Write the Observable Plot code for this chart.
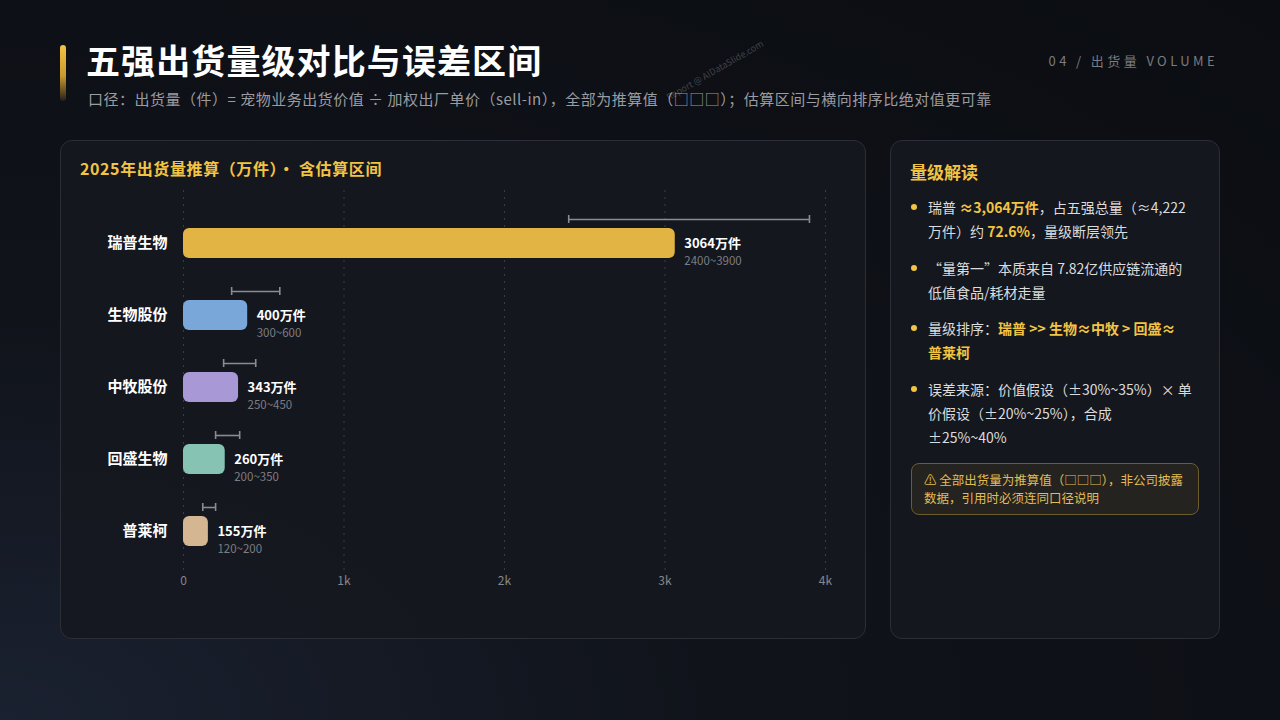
<!DOCTYPE html>
<html>
<head>
<meta charset="utf-8">
<script src="https://cdn.jsdelivr.net/npm/d3@7"></script>
<script src="https://cdn.jsdelivr.net/npm/@observablehq/plot@0.6"></script>
<style>
  html, body { margin: 0; padding: 0; }
  body {
    width: 1280px; height: 720px; overflow: hidden; position: relative;
    background: radial-gradient(ellipse at 0% 100%, #1a2130 0%, #10131a 40%, #0b0d12 100%);
    font-family: "Noto Sans CJK SC", "Noto Sans", sans-serif;
    color: #e8e8e8;
  }
  .accent { position: absolute; left: 60px; top: 45px; width: 6px; height: 56px; border-radius: 3px;
    background: linear-gradient(#f2c443 0%, #c99a2e 55%, rgba(120,90,30,0.2) 100%); }
  .title { position: absolute; left: 86px; top: 37px; font-size: 34px; font-weight: 700; color: #fff; letter-spacing: 1.1px; line-height: 46px; }
  .subtitle { position: absolute; left: 88px; top: 88px; font-size: 15px; color: #9a9ca2; line-height: 22px; white-space: nowrap; letter-spacing: 0.5px; }
  .tag { position: absolute; right: 62px; top: 52px; font-size: 13px; color: #7a7c80; letter-spacing: 3.4px; line-height: 18px; }
  .watermark { position: absolute; left: 664px; top: 92px; font-size: 9px; color: rgba(255,255,255,0.22); transform: rotate(-30deg); transform-origin: left top; white-space: nowrap; }
  .panel { position: absolute; background: rgba(22,24,31,0.92); border: 1px solid #2b2e37; border-radius: 12px; box-sizing: border-box; }
  .left { left: 60px; top: 140px; width: 806px; height: 499px; }
  .right { left: 890px; top: 140px; width: 330px; height: 499px; }
  .ptitle { position: absolute; font-weight: 700; color: #f2c443; white-space: nowrap; }
  .chart { position: absolute; left: 60px; top: 190px; }
  .bullets { position: absolute; left: 20px; top: 54px; width: 300px; font-size: 14px; color: #dcdcdc; line-height: 24px; }
  .bl { position: relative; padding-left: 17px; margin-bottom: 12.5px; white-space: nowrap; }
  .bl::before { content: ""; position: absolute; left: 0; top: 9px; width: 6px; height: 6px; border-radius: 50%; background: #f2c443; }
  .hl { color: #f2c443; font-weight: 700; }
  .warn { position: absolute; left: 20px; top: 322px; width: 288px; height: 52px; box-sizing: border-box; border: 1px solid #6e5c2c; border-radius: 8px; background: rgba(190,150,50,0.10); color: #e2bd55; font-size: 12.5px; line-height: 18px; padding: 7px 0 0 12px; white-space: nowrap; }
</style>
</head>
<body>
<div class="accent"></div>
<div class="title">五强出货量级对比与误差区间</div>
<div class="subtitle">口径：出货量（件）= 宠物业务出货价值 ÷ 加权出厂单价（sell-in），全部为推算值（□□□）；估算区间与横向排序比绝对值更可靠</div>
<div class="tag">04 / 出货量 VOLUME</div>
<div class="watermark">Report @ AIDataSlide.com</div>

<div class="panel left">
  <div class="ptitle" style="left:19px; top:14px; font-size:16px; line-height:26px; letter-spacing:0.6px;">2025年出货量推算（万件）· 含估算区间</div>
</div>
<div id="chart" class="chart"></div>

<div class="panel right">
  <div class="ptitle" style="left:19px; top:18px; font-size:17px; line-height:26px;">量级解读</div>
  <div class="bullets">
    <div class="bl">瑞普 <span class="hl">≈3,064万件</span>，占五强总量（≈4,222<br>万件）约 <span class="hl">72.6%</span>，量级断层领先</div>
    <div class="bl">“量第一”本质来自 7.82亿供应链流通的<br>低值食品/耗材走量</div>
    <div class="bl">量级排序：<span class="hl">瑞普 &gt;&gt; 生物≈中牧 &gt; 回盛≈<br>普莱柯</span></div>
    <div class="bl">误差来源：价值假设（±30%~35%）× 单<br>价假设（±20%~25%），合成<br>±25%~40%</div>
  </div>
  <div class="warn">⚠ 全部出货量为推算值（□□□），非公司披露<br>数据，引用时必须连同口径说明</div>
</div>

<script>
const companies = ["瑞普生物", "生物股份", "中牧股份", "回盛生物", "普莱柯"];
const volumes = [3064, 400, 343, 260, 155];
const lows = [2400, 300, 250, 200, 120];
const highs = [3900, 600, 450, 350, 200];
const barColors = ["#e1b443", "#7aa7d9", "#a899d6", "#86c3b3", "#d4b692"];
const xTicks = [0, 1000, 2000, 3000, 4000];
const unit = "万件";

const rows = companies.map((c, i) => ({
  company: c, volume: volumes[i], low: lows[i], high: highs[i], color: barColors[i]
}));

const chart = Plot.plot({
  width: 806,
  height: 405,
  marginLeft: 123,
  marginRight: 41,
  marginTop: 0,
  marginBottom: 25,
  style: { background: "transparent", color: "#8a8c92", fontFamily: "'Noto Sans CJK SC', 'Noto Sans', sans-serif" },
  x: { domain: [0, 4000], ticks: xTicks, label: null },
  y: { domain: companies, insetTop: 16, insetBottom: 3, padding: 0, label: null },
  marks: [
    Plot.ruleX(xTicks, { stroke: "#3a3d46", strokeDasharray: "2,5", strokeWidth: 1 }),
    Plot.axisX({ ticks: xTicks, tickSize: 0, tickPadding: 6, fontSize: 12, color: "#85878d", label: null,
      tickFormat: d => d === 0 ? "0" : (d / 1000) + "k" }),
    Plot.axisY({ tickSize: 0, tickPadding: 16, fontSize: 15, fontWeight: 700, color: "#ffffff", label: null }),
    Plot.barX(rows, { x: "volume", y: "company", fill: "color", rx: 6, insetTop: 21, insetBottom: 21 }),
    Plot.ruleY(rows, { x1: "low", x2: "high", y: "company", dy: -24, stroke: "#8a8c92", strokeWidth: 1.6 }),
    Plot.tickX(rows, { x: "low", y: "company", dy: -24, insetTop: 32, insetBottom: 32, stroke: "#8a8c92", strokeWidth: 1.6 }),
    Plot.tickX(rows, { x: "high", y: "company", dy: -24, insetTop: 32, insetBottom: 32, stroke: "#8a8c92", strokeWidth: 1.6 }),
    Plot.text(rows, { x: "volume", y: "company", text: d => d.volume + unit, dx: 9, dy: 0, textAnchor: "start",
      fill: "#ffffff", fontSize: 13, fontWeight: 700 }),
    Plot.text(rows, { x: "volume", y: "company", text: d => d.low + "~" + d.high, dx: 9, dy: 18, textAnchor: "start",
      fill: "#7c7e84", fontSize: 11.5 })
  ]
});
document.getElementById("chart").appendChild(chart);
</script>
</body>
</html>
